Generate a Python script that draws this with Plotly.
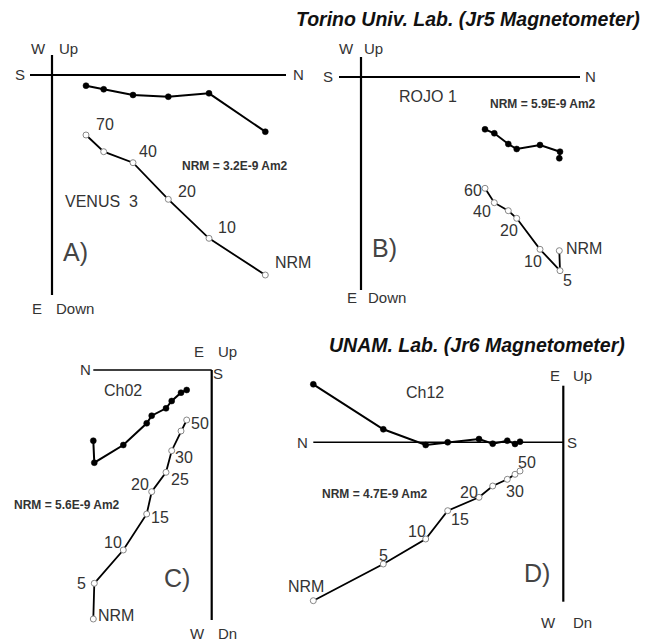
import plotly.graph_objects as go

W, H = 647, 642

# ---------------- DATA (component offsets from the diagram origin) ----------------
# Panel A: VENUS 3 (Torino, Jr5)
A_steps = ["NRM", "10", "20", "40", "50", "70"]
A_north = [213.3, 157.0, 116.3, 81.0, 51.7, 34.0]
A_vert = [200.0, 163.3, 124.3, 87.7, 76.7, 60.0]     # open symbols (N vs Down)
A_horiz = [56.7, 18.3, 21.7, 20.0, 14.3, 10.7]       # filled symbols (N vs E)

# Panel B: ROJO 1 (Torino, Jr5)
B_steps = ["NRM", "5", "10", "20", "30", "40", "60"]
B_north = [198.3, 199.0, 179.0, 155.7, 147.3, 133.3, 124.0]
B_vert = [173.7, 193.7, 172.3, 141.3, 133.7, 125.7, 111.3]
B_horiz = [81.3, 74.7, 68.0, 72.0, 67.0, 56.3, 52.3]

# Panel C: Ch02 (UNAM, Jr6)
C_steps = ["NRM", "5", "10", "15", "20", "25", "30", "40", "50"]
C_north = [118.4, 117.4, 88.4, 65.0, 60.0, 45.7, 40.0, 30.7, 25.0]
C_vert = [249.0, 213.3, 180.0, 144.0, 121.7, 102.3, 80.7, 61.0, 50.0]
C_horiz = [70.7, 92.7, 75.0, 53.3, 45.7, 38.3, 31.0, 22.7, 20.0]

# Panel D: Ch12 (UNAM, Jr6)
D_steps = ["NRM", "5", "10", "15", "20", "25", "30", "40", "50"]
D_north = [250.0, 180.0, 137.6, 115.6, 84.3, 70.6, 56.0, 48.3, 43.3]
D_vert = [158.4, 121.7, 96.7, 68.4, 55.0, 43.7, 37.0, 32.0, 28.7]
D_horiz = [-58.0, -13.0, 2.7, 0.0, -3.3, 1.4, -1.6, 1.7, -0.6]

NRM_TEXT = {"A": "NRM = 3.2E-9 Am2", "B": "NRM = 5.9E-9 Am2",
            "C": "NRM = 5.6E-9 Am2", "D": "NRM = 4.7E-9 Am2"}

# ---------------- LAYOUT / STYLE ----------------
FONT = "Liberation Sans, Arial, sans-serif"
LBL_COLOR = "#333333"
STEP_SIZE = 16

panels = [
    dict(key="A", steps=A_steps, north=A_north, vert=A_vert, horiz=A_horiz,
         origin=(52, 75), north_right=True,
         hline=(-22, 234), vline=(-20, 220),
         shifts={"NRM": (28, -13), "10": (18, -11), "20": (19, -8), "40": (15, -11), "70": (19, -11)}),
    dict(key="B", steps=B_steps, north=B_north, vert=B_vert, horiz=B_horiz,
         origin=(361, 77), north_right=True,
         hline=(-22, 219), vline=(-20, 213),
         shifts={"NRM": (25, -2), "5": (7, 10), "10": (-7, 12), "20": (-8, 12), "40": (-12, 9), "60": (-12, 2)}),
    dict(key="C", steps=C_steps, north=C_north, vert=C_vert, horiz=C_horiz,
         origin=(211.7, 370), north_right=False,
         hline=(0, 118.4), vline=(0, 250),
         shifts={"50": (13, 3), "30": (12, 7), "25": (14, 7), "20": (-12, -7), "15": (13, 3),
                 "10": (-10, -8), "5": (-13, 0), "NRM": (23, -4)}),
    dict(key="D", steps=D_steps, north=D_north, vert=D_vert, horiz=D_horiz,
         origin=(563.3, 442.3), north_right=False,
         hline=(0, 250), vline=(-56.6, 159.4),
         shifts={"NRM": (-7, -14), "5": (0, -9), "10": (-9, -8), "15": (12, 9), "20": (-10, -5),
                 "30": (8, 12), "50": (7, -9)}),
]

fig = go.Figure()
layout = dict(width=W, height=H, margin=dict(l=0, r=0, t=0, b=0),
              paper_bgcolor="white", plot_bgcolor="rgba(0,0,0,0)",
              showlegend=False, shapes=[], annotations=[])

for i, p in enumerate(panels, start=1):
    xa = "x" if i == 1 else f"x{i}"
    ya = "y" if i == 1 else f"y{i}"
    ox, oy = p["origin"]
    xr = [-ox, W - ox] if p["north_right"] else [ox, ox - W]
    layout["xaxis" if i == 1 else f"xaxis{i}"] = dict(domain=[0, 1], range=xr, visible=False,
                                                       anchor=ya, fixedrange=True)
    layout["yaxis" if i == 1 else f"yaxis{i}"] = dict(domain=[0, 1], range=[H - oy, -oy], visible=False,
                                                       anchor=xa, fixedrange=True)
    # axes of the orthogonal projection
    h0, h1 = p["hline"]
    v0, v1 = p["vline"]
    layout["shapes"].append(dict(type="line", xref=xa, yref=ya, x0=h0, x1=h1, y0=0, y1=0,
                                 line=dict(color="black", width=2 if p["key"] in "AB" else 1.4)))
    layout["shapes"].append(dict(type="line", xref=xa, yref=ya, x0=0, x1=0, y0=v0, y1=v1,
                                 line=dict(color="black", width=2.2)))
    # horizontal projection (filled)
    fig.add_trace(go.Scatter(x=p["north"], y=p["horiz"], mode="lines+markers", xaxis=xa, yaxis=ya,
                             line=dict(color="black", width=2),
                             marker=dict(size=6, color="black", line=dict(color="black", width=0.5)),
                             hoverinfo="skip"))
    # vertical projection (open)
    fig.add_trace(go.Scatter(x=p["north"], y=p["vert"], mode="lines+markers", xaxis=xa, yaxis=ya,
                             line=dict(color="black", width=1.8),
                             marker=dict(size=6, color="white", line=dict(color="#888888", width=1)),
                             hoverinfo="skip"))
    # step labels
    for s, n, v in zip(p["steps"], p["north"], p["vert"]):
        if s in p["shifts"]:
            dx, dy = p["shifts"][s]
            layout["annotations"].append(dict(x=n, y=v, xref=xa, yref=ya, text=s, showarrow=False,
                                              xshift=dx, yshift=-dy,
                                              font=dict(family=FONT, size=STEP_SIZE, color=LBL_COLOR)))

def txt(t, px, py, size=15, color=LBL_COLOR, bold=False, italic=False):
    s = t
    if bold:
        s = f"<b>{s}</b>"
    if italic:
        s = f"<i>{s}</i>"
    layout["annotations"].append(dict(x=px / W, y=1 - py / H, xref="paper", yref="paper", text=s,
                                      showarrow=False, xanchor="center", yanchor="middle",
                                      font=dict(family=FONT, size=size, color=color)))

# Panel A texts
txt("S", 20, 75); txt("N", 298, 75); txt("W", 38.5, 48); txt("Up", 68, 48)
txt("E", 37, 308); txt("Down", 75, 308)
txt("VENUS  3", 102, 201, size=16); txt(NRM_TEXT["A"], 235, 166, size=12, bold=True)
txt("A)", 75, 252, size=25, color="#444444")
# Panel B texts
txt("S", 328, 77); txt("N", 590, 77); txt("W", 346, 48); txt("Up", 373, 48)
txt("E", 352, 298); txt("Down", 387, 298)
txt("ROJO 1", 428, 97, size=16); txt(NRM_TEXT["B"], 543, 104, size=12, bold=True)
txt("B)", 384, 248, size=25, color="#444444")
txt("Torino Univ. Lab. (Jr5 Magnetometer)", 468, 19, size=19.5, color="#111111", bold=True, italic=True)
# Panel C texts
txt("N", 85, 370); txt("E", 199, 352); txt("Up", 227, 352); txt("S", 218, 373)
txt("W", 197, 633); txt("Dn", 227, 633)
txt("Ch02", 123, 390, size=16); txt(NRM_TEXT["C"], 67, 505, size=12, bold=True)
txt("C)", 177, 578, size=25, color="#444444")
# Panel D texts
txt("N", 302, 442); txt("S", 572, 442); txt("E", 555, 375); txt("Up", 582, 375)
txt("W", 548, 622); txt("Dn", 582, 622)
txt("Ch12", 425, 392, size=16); txt(NRM_TEXT["D"], 375, 494, size=12, bold=True)
txt("D)", 537, 573, size=25, color="#444444")
txt("UNAM. Lab. (Jr6 Magnetometer)", 477, 345, size=19.5, color="#111111", bold=True, italic=True)

fig.update_layout(**layout)
fig.write_html("out.html", config={"displayModeBar": False},
               post_script="document.body.style.margin='0px';document.body.style.overflow='hidden';")
